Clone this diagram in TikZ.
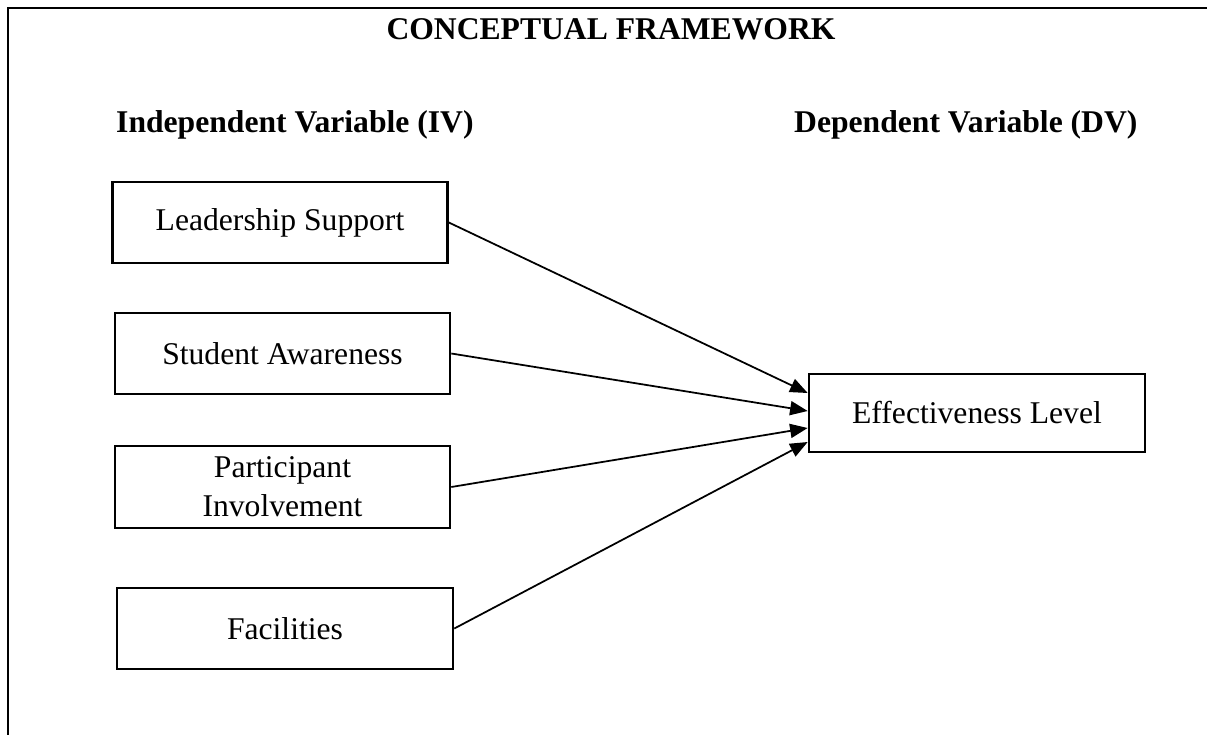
\documentclass[tikz,border=0pt]{standalone}
\usepackage{fontspec}
\setmainfont{Liberation Serif}
\usepackage{tikz}
\usetikzlibrary{arrows.meta}

\begin{document}
\begin{tikzpicture}[font=\fontsize{18}{22}\selectfont,
  varbox/.style={draw, line width=1.5pt, minimum width=6.7cm, minimum height=1.62cm, align=center},
  heading/.style={font=\fontsize{18}{22}\selectfont\bfseries},
  link/.style={line width=1pt, -{Triangle[length=10pt,width=8pt]}}]
\useasboundingbox (0,0) rectangle (24.14,-14.7);
\draw[line width=1.6pt] (24.14,-0.16) -- (0.16,-0.16) -- (0.16,-14.7) ;
\node[heading, anchor=base] (title) at (12.22,-0.8) {CONCEPTUAL FRAMEWORK} ;
\node[heading, anchor=base west] (iv) at (2.2,-2.66) {Independent Variable (IV)} ;
\node[heading, anchor=base west] (dv) at (15.76,-2.66) {Dependent Variable (DV)} ;
\node[varbox] (lead) at (5.6,-4.45) {Leadership Support} ;
\node[varbox] (aware) at (5.65,-7.07) {Student Awareness} ;
\node[varbox, minimum height=1.64cm] (partic) at (5.65,-9.74) {Participant\\Involvement} ;
\node[varbox, minimum width=6.72cm] (facil) at (5.7,-12.57) {Facilities} ;
\node[varbox, minimum width=6.72cm, minimum height=1.56cm] (effect) at (19.54,-8.26) {Effectiveness Level} ;
\draw[link] (lead.east) -- ([yshift=0.4cm]effect.west) ;
\draw[link] (aware.east) -- ([yshift=0.04cm]effect.west) ;
\draw[link] (partic.east) -- ([yshift=-0.3cm]effect.west) ;
\draw[link] (facil.east) -- ([yshift=-0.58cm]effect.west) ;
\end{tikzpicture}
\end{document}
